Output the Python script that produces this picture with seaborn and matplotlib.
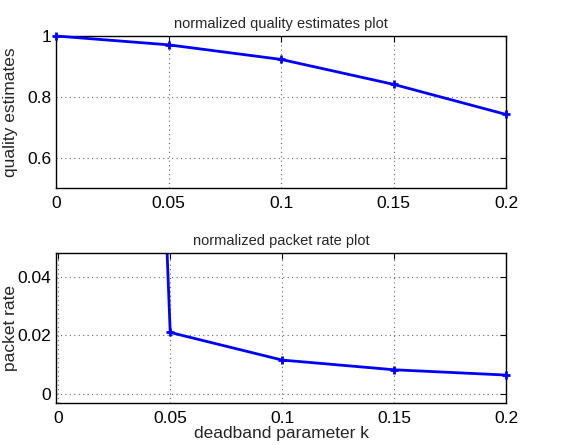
import matplotlib
matplotlib.use("Agg")
import matplotlib.pyplot as plt
import seaborn as sns
import pandas as pd

deadband_k = [0.0, 0.05, 0.1, 0.15, 0.2]
quality = [1.0, 0.971, 0.923, 0.841, 0.742]
packet_rate = [1.0, 0.0210, 0.0116, 0.0083, 0.0065]

x_ticks = [0, 0.05, 0.1, 0.15, 0.2]
x_tick_labels = ["0", "0.05", "0.1", "0.15", "0.2"]
q_ticks = [0.6, 0.8, 1.0]
q_tick_labels = ["0.6", "0.8", "1"]
p_ticks = [0, 0.02, 0.04]
p_tick_labels = ["0", "0.02", "0.04"]

sns.set_style("white")
plt.rcParams["font.family"] = ["Liberation Sans", "DejaVu Sans"]

df = pd.DataFrame({"k": deadband_k, "quality": quality, "packet": packet_rate})

fig = plt.figure(figsize=(5.74, 4.45), dpi=100)
ax1 = fig.add_axes([0.0976, 0.5775, 0.784, 0.3416])
ax2 = fig.add_axes([0.0976, 0.0944, 0.784, 0.337])


def style_axis(ax):
    for s in ax.spines.values():
        s.set_visible(True)
        s.set_color("black")
        s.set_linewidth(1.0)
    ax.grid(True, linestyle=(0, (1, 3)), color="#666666", linewidth=0.8)
    ax.tick_params(direction="in", length=4, width=0.8, top=True, right=True,
                   labelsize=12.5, colors="black")
    ax.tick_params(axis="x", pad=6)
    ax.yaxis.set_label_coords(-0.085, 0.5)


sns.lineplot(data=df, x="k", y="quality", ax=ax1, color="blue", linewidth=2,
             marker="+", markersize=6, markeredgewidth=2, markeredgecolor="blue",
             clip_on=False, zorder=5)
ax1.set_xlim(0, 0.2)
ax1.set_ylim(0.5, 1.0)
ax1.set_xticks(x_ticks, x_tick_labels)
ax1.set_yticks(q_ticks, q_tick_labels)
ax1.set_xlabel("")
ax1.set_ylabel("quality estimates", fontsize=12.5)
ax1.set_title("normalized quality estimates plot", fontsize=10.5, pad=6)
style_axis(ax1)

sns.lineplot(data=df, x="k", y="packet", ax=ax2, color="blue", linewidth=2)
visible = df[df["packet"] < 0.048]
sns.scatterplot(data=visible, x="k", y="packet", ax=ax2, color="blue",
                marker="+", s=40, linewidth=2, clip_on=False, zorder=5)
ax2.set_xlim(-0.001, 0.2)
ax2.set_ylim(-0.003, 0.048)
ax2.set_xticks(x_ticks, x_tick_labels)
ax2.set_yticks(p_ticks, p_tick_labels)
ax2.set_xlabel("deadband parameter k", fontsize=12.5, labelpad=0)
ax2.set_ylabel("packet rate", fontsize=12.5)
ax2.set_title("normalized packet rate plot", fontsize=10.5, pad=6)
style_axis(ax2)

fig.savefig("out.png", dpi=100)
plt.close(fig)
